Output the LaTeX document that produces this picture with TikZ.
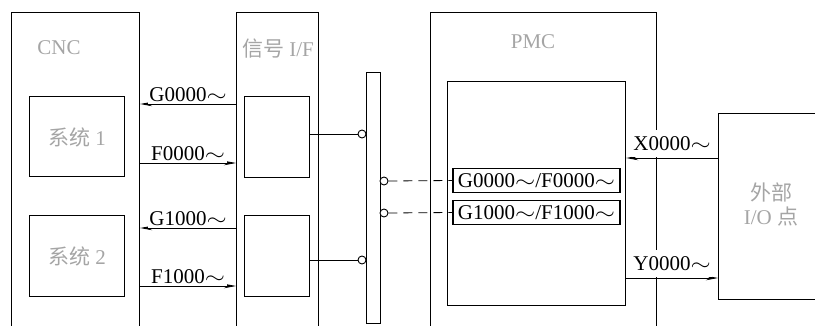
\documentclass[tikz,border=0pt]{standalone}
\usepackage{fontspec}
\usepackage{graphicx}
\setmainfont{Liberation Serif}
\newfontfamily\cjk{Noto Sans CJK SC}
\usetikzlibrary{arrows.meta}
\definecolor{lbgray}{RGB}{165,165,165}
\newcommand{\tl}{\scalebox{1.25}[1]{$\sim$}}
\tikzset{
  box/.style={draw, line width=1.2pt, inner sep=0pt, anchor=north west},
  glabel/.style={text=lbgray, font=\fontsize{21}{23}\selectfont, inner sep=0pt},
  sig/.style={font=\fontsize{21}{23}\selectfont, inner sep=1.5pt},
  arr/.style={line width=0.8pt, -{Stealth[length=12pt,width=4.5pt]}},
  port/.style={circle, draw, line width=0.9pt, fill=white, minimum size=8pt, inner sep=0pt},
  lbox/.style={draw, line width=1.4pt, inner sep=0pt, minimum width=167pt, minimum height=24pt,
               font=\fontsize{21}{23}\selectfont},
}
\begin{document}
\begin{tikzpicture}[x=1pt,y=-1pt]
\useasboundingbox (0,0) rectangle (815,325);
% outer boxes (open at the bottom edge)
\node[box, minimum width=128pt, minimum height=330pt] (cnc) at (11,12) {};
\node[box, minimum width=82pt, minimum height=330pt] (sif) at (236,12) {};
\node[box, minimum width=226pt, minimum height=330pt] (pmc) at (430,12) {};
\node[box, minimum width=14pt, minimum height=251pt] (bus) at (366,72) {};
\node[box, minimum width=120pt, minimum height=186pt] (ext) at (718,113) {};
% inner boxes
\node[box, minimum width=95pt, minimum height=80pt] (sys1) at (29,96) {};
\node[box, minimum width=95pt, minimum height=81pt] (sys2) at (29,215) {};
\node[box, minimum width=65pt, minimum height=81pt] (if1) at (244,96) {};
\node[box, minimum width=65pt, minimum height=81pt] (if2) at (244,215) {};
\node[box, minimum width=178pt, minimum height=224pt] (pin) at (447,81) {};
% grey titles
\node[glabel] (tcnc) at (59,48) {CNC};
\node[glabel] (tsif) at (278,49) {{\cjk 信号} I/F};
\node[glabel] (tpmc) at (533,42) {PMC};
\node[glabel] (ts1) at (77,137) {{\cjk 系统} 1};
\node[glabel] (ts2) at (77,256) {{\cjk 系统} 2};
\node[glabel, align=center] (text) at (771,204) {{\cjk 外部}\\[1pt]I/O {\cjk 点}};
% boxed signal labels in PMC
\node[lbox] (lab1) at (536.5,180.5) {G0000\tl/F0000\tl};
\node[lbox] (lab2) at (536.5,212.5) {G1000\tl/F1000\tl};
% ports on the bus
\node[port] (c1) at (362,134) {};
\node[port] (c2) at (362,260) {};
\node[port] (c3) at (384,181) {};
\node[port] (c4) at (384,213) {};
\draw[line width=0.8pt] (if1.east |- c1) -- (c1.west);
\draw[line width=0.8pt] (if2.east |- c2) -- (c2.west);
\draw[line width=0.8pt, dash pattern=on 9pt off 6pt] (c3.east) -- (lab1.west);
\draw[line width=0.8pt, dash pattern=on 9pt off 6pt] (c4.east) -- (lab2.west);
% CNC <-> signal I/F
\coordinate (yg0) at (0,104);
\coordinate (yf0) at (0,163);
\coordinate (yg1) at (0,228);
\coordinate (yf1) at (0,286);
\draw[arr] (yg0 -| sif.west) -- node[sig, above, fill=white] (lg0) {G0000\tl} (yg0 -| cnc.east);
\draw[arr] (yf0 -| cnc.east) -- node[sig, above, fill=white] (lf0) {F0000\tl} (yf0 -| sif.west);
\draw[arr] (yg1 -| sif.west) -- node[sig, above, fill=white] (lg1) {G1000\tl} (yg1 -| cnc.east);
\draw[arr] (yf1 -| cnc.east) -- node[sig, above, fill=white] (lf1) {F1000\tl} (yf1 -| sif.west);
% PMC <-> external I/O
\coordinate (yx) at (0,158);
\coordinate (yy) at (0,278);
\draw[arr] (yx -| ext.west) -- node[sig, above=1pt, fill=white, inner ysep=6pt] (lx) {X0000\tl} (yx -| pin.east);
\draw[arr] (yy -| pin.east) -- node[sig, above=1pt, fill=white, inner ysep=6pt] (ly) {Y0000\tl} (yy -| ext.west);
\end{tikzpicture}
\end{document}
